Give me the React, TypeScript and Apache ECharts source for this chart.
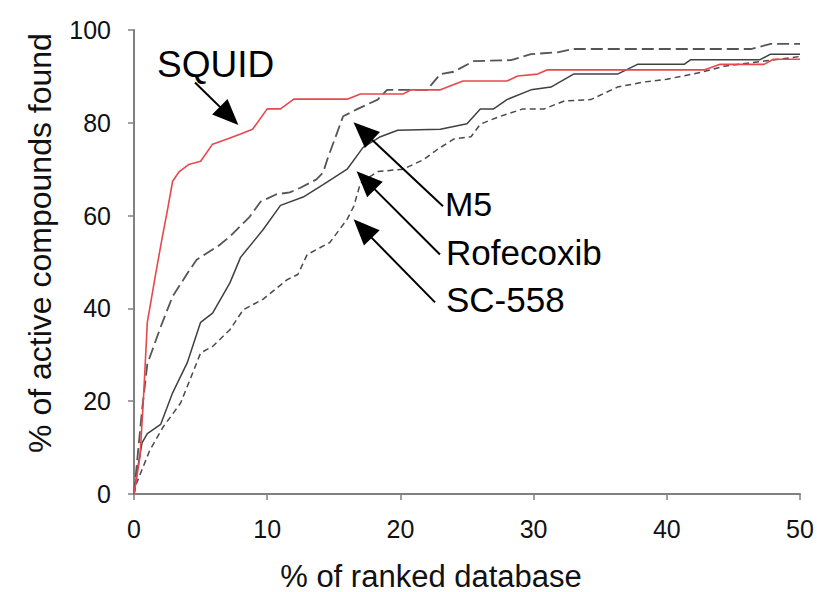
import React, { useEffect, useRef } from "react";
import * as echarts from "echarts";

const xTicks = [0, 10, 20, 30, 40, 50];
const yTicks = [0, 20, 40, 60, 80, 100];

const squid: number[][] = [
  [0, 0], [0.45, 8], [0.7, 20], [1, 37], [1.6, 47], [2.1, 55], [2.5, 61], [2.9, 67.4],
  [3.4, 69.5], [4.1, 71], [5, 71.7], [5.9, 75.4], [7, 76.5], [8, 77.6], [8.9, 78.6],
  [10, 83], [11, 83], [12, 85.1], [16, 85.1], [17, 86.2], [20.2, 86.2], [20.8, 87.1],
  [23, 87.1], [24.7, 89], [28, 89], [28.8, 90.1], [30.3, 90.5], [31, 91.4], [42.8, 91.4],
  [44, 92.6], [47.3, 92.6], [48, 93.7], [50, 93.7],
];

const m5: number[][] = [
  [0, 0], [0.2, 6], [0.6, 18], [1, 28], [2, 36], [2.9, 42.6], [4, 47.5], [4.7, 50.5],
  [6.3, 53.4], [7.2, 55.5], [8.7, 59.8], [9.5, 63], [10.7, 64.6], [11.7, 65], [12.5, 66],
  [13.7, 67.8], [14.2, 69.3], [14.5, 72], [15.7, 81.4], [16.8, 83], [18.3, 85], [19, 87.1],
  [22, 87.1], [23, 90.5], [24, 91], [25.5, 93.3], [28.3, 93.5], [29.8, 94.8], [31.8, 95.2],
  [33, 95.9], [46.3, 95.9], [47.8, 97], [50, 97],
];

const rofecoxib: number[][] = [
  [0, 0], [0.3, 6], [0.6, 11], [1, 13], [2, 15], [2.9, 21.8], [4, 28.3], [5, 37],
  [5.9, 39], [7.2, 45.5], [8, 51], [9.7, 57], [11, 62.2], [12.7, 64], [14.2, 66.7],
  [16, 70], [17.2, 74.7], [18.5, 77], [19.8, 78.4], [23, 78.6], [25, 79.8], [26, 83],
  [27, 83], [28, 85], [29.8, 87.1], [31.3, 87.7], [33, 90.5], [36.3, 90.5], [37.8, 92.6],
  [41.3, 92.6], [41.8, 93.6], [47, 93.6], [47.8, 94.8], [50, 94.8],
];

const sc558: number[][] = [
  [0, 0], [0.2, 2.4], [1.2, 9.5], [2.2, 14.5], [3.5, 19.6], [4.2, 24.6], [5, 30.4],
  [5.9, 31.8], [7.2, 35.4], [8.2, 39.7], [9.7, 42], [11.5, 46.2], [12.3, 47.3], [13, 51.6],
  [14.7, 54.2], [16, 59.2], [16.5, 62], [17, 67], [18.3, 69.5], [20.2, 70], [21.7, 72],
  [22.8, 74.3], [24, 76.5], [25.3, 77], [26, 79.7], [27.3, 81.2], [29.2, 83], [30.8, 83],
  [32.3, 84.7], [34.3, 85], [36.3, 87.7], [38.3, 88.8], [40, 89.4], [42.6, 90.9],
  [44.3, 92.2], [47.3, 93.3], [50, 94.3],
];

// arrows: [tailX, tailY, headX, headY] in data units (head = centre of arrow head)
const arrows: number[][] = [
  [4.58, 88.7, 7.14, 81.5],
  [23.2, 62.0, 17.19, 78.2],
  [22.97, 51.6, 17.4, 67.6],
  [22.6, 41.3, 17.17, 57.2],
];

const FONT = "'Liberation Sans', Arial, Helvetica, sans-serif";

export default function App() {
  const ref = useRef<HTMLDivElement>(null);
  useEffect(() => {
    if (!ref.current) return;
    const chart = echarts.init(ref.current, null, { renderer: "svg" });
    const axisColor = "#808080";
    chart.setOption({
      animation: false,
      backgroundColor: "#ffffff",
      grid: { left: 134, right: 17, top: 30, bottom: 98, containLabel: false },
      xAxis: {
        type: "value",
        min: 0,
        max: 50,
        interval: 10,
        splitLine: { show: false },
        axisLine: { show: true, lineStyle: { color: axisColor, width: 2 } },
        axisTick: { show: true, length: 6, lineStyle: { color: axisColor, width: 1.5 } },
        axisLabel: { fontSize: 25, color: "#111", fontFamily: FONT, margin: 22 },
      },
      yAxis: {
        type: "value",
        min: 0,
        max: 100,
        interval: 20,
        splitLine: { show: false },
        axisLine: { show: true, lineStyle: { color: axisColor, width: 2 } },
        axisTick: { show: true, length: 6, lineStyle: { color: axisColor, width: 1.5 } },
        axisLabel: { fontSize: 25, color: "#111", fontFamily: FONT, margin: 23 },
      },
      series: [
        {
          name: "SC-558",
          type: "line",
          data: sc558,
          showSymbol: false,
          lineStyle: { color: "#4a4a4a", width: 1.5, type: [6, 4] },
        },
        {
          name: "Rofecoxib",
          type: "line",
          data: rofecoxib,
          showSymbol: false,
          lineStyle: { color: "#404040", width: 1.5, type: "solid" },
        },
        {
          name: "M5",
          type: "line",
          data: m5,
          showSymbol: false,
          lineStyle: { color: "#555555", width: 1.8, type: [12, 5] },
        },
        {
          name: "SQUID",
          type: "line",
          data: squid,
          showSymbol: false,
          lineStyle: { color: "#e8474c", width: 1.6 },
          markLine: {
            silent: true,
            symbol: ["none", "triangle"],
            symbolSize: [22, 26],
            label: { show: false },
            lineStyle: { color: "#000", width: 2, type: "solid" },
            itemStyle: { color: "#000" },
            data: arrows.map((a) => [
              { coord: [a[0], a[1]] },
              { coord: [a[2], a[3]] },
            ]),
          },
        },
      ],
      graphic: [
        {
          type: "text",
          x: 157,
          y: 64,
          style: { text: "SQUID", fontSize: 37, fontFamily: FONT, fill: "#000", align: "left", verticalAlign: "middle" },
        },
        {
          type: "text",
          x: 445,
          y: 204,
          style: { text: "M5", fontSize: 34, fontFamily: FONT, fill: "#000", align: "left", verticalAlign: "middle" },
        },
        {
          type: "text",
          x: 446,
          y: 252,
          style: { text: "Rofecoxib", fontSize: 35, fontFamily: FONT, fill: "#000", align: "left", verticalAlign: "middle" },
        },
        {
          type: "text",
          x: 446,
          y: 299,
          style: { text: "SC-558", fontSize: 35, fontFamily: FONT, fill: "#000", align: "left", verticalAlign: "middle" },
        },
        {
          type: "text",
          x: 431,
          y: 576,
          style: { text: "% of ranked database", fontSize: 31, fontFamily: FONT, fill: "#111", align: "center", verticalAlign: "middle" },
        },
        {
          type: "text",
          x: 40,
          y: 243,
          rotation: Math.PI / 2,
          style: { text: "% of active compounds found", fontSize: 32, fontFamily: FONT, fill: "#111", align: "center", verticalAlign: "middle" },
        },
      ],
    });
    return () => chart.dispose();
  }, []);
  return <div ref={ref} style={{ width: 817, height: 592, position: "absolute", left: 0, top: 0 }} />;
}
